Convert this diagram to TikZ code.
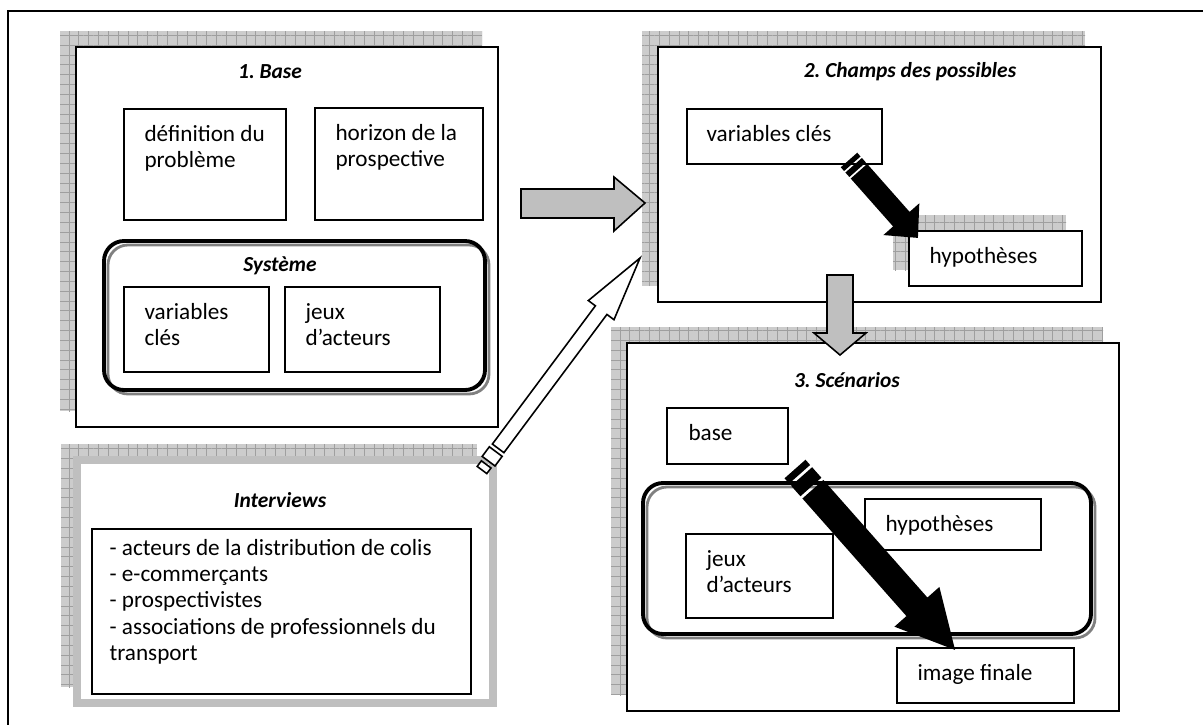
\documentclass[tikz,border=0pt]{standalone}
\usepackage{fontspec}
\setmainfont{Carlito}
\usetikzlibrary{calc,positioning,fit,patterns.meta}

\tikzset{
      stage/.style = {draw, line width=0.9pt, fill=white, inner sep=0pt},   % <--- step boxes
       item/.style = {draw, line width=0.9pt, fill=white, inner sep=0pt},
      hatch/.style = {preaction={fill=gray!40,
                         transform canvas={xshift=-0.32cm, yshift=0.32cm}},
                      preaction={pattern={Hatch[distance=5.6pt, line width=0.4pt]},
                         pattern color=gray!75,
                         transform canvas={xshift=-0.32cm, yshift=0.32cm}}},
        grp/.style = {draw, line width=2.2pt, rounded corners=0.4cm, inner sep=0pt},
     grpbak/.style = {draw=gray, line width=1.6pt, rounded corners=0.4cm, inner sep=0pt},
      ivbox/.style = {draw=gray!50, line width=4pt, fill=white, inner sep=0pt},
      title/.style = {font=\fontsize{12.2}{14}\selectfont\bfseries\itshape},
        txt/.style = {anchor=north west, align=left, inner sep=0pt},
     garrow/.style = {draw, line width=0.9pt, fill=gray!50},
     warrow/.style = {draw, line width=0.9pt, fill=white},
        }

\begin{document}
\frenchspacing
\fontsize{13.2}{15}\selectfont
\begin{tikzpicture}[x=0.02cm, y=-0.02cm]
  \useasboundingbox (0,0) rectangle (1203,724);
  \node[draw, line width=1.2pt, inner sep=0pt, fit={(8,11) (1240,760)}] (frame) {};

  % 1. Base
  \node[stage, hatch, fit={(76,47) (498,427)}] (b1) {};
  \node[title] (t1) at (270,72) {1. Base};
  \node[item, fit={(124,109) (286,220)}] (def) {};
  \node[txt] (tdef) at ($(def.north west)+(21,16.5)$) {définition du\\problème};
  \node[item, fit={(315,108) (483,220)}] (hor) {};
  \node[txt] (thor) at ($(hor.north west)+(21,16.5)$) {horizon de la\\prospective};
  \node[grpbak, fit={(108,245) (489,394)}] (sys1b) {};
  \node[grp, fit={(104,241) (485,390)}] (sys1) {};
  \node[title] (tsys) at (280,266) {Système};
  \node[item, fit={(124,287) (269,372)}] (vc1) {};
  \node[txt] (tvc1) at ($(vc1.north west)+(21,16.5)$) {variables\\clés};
  \node[item, fit={(285,287) (440,372)}] (ja1) {};
  \node[txt] (tja1) at ($(ja1.north west)+(21,16.5)$) {jeux\\d’acteurs};

  % 2. Champs des possibles
  \node[stage, hatch, fit={(658,47) (1101,302)}] (b2) {};
  \node[title] (t2) at (910,72) {2. Champs des possibles};
  \node[item, fit={(687,109) (882,164)}] (vc2) {};
  \node[txt] (tvc2) at ($(vc2.north west)+(20,16.5)$) {variables clés};
  \node[item, hatch, fit={(909,231) (1082,286)}] (hy2) {};
  \node[txt] (thy2) at ($(hy2.north west)+(21,16.5)$) {hypothèses};

  % 3. Scenarios
  \node[stage, hatch, fit={(627,343) (1119,711)}] (b3) {};
  \node[title] (t3) at (847,380) {3. Scénarios};
  \node[item, fit={(667,408) (788,464)}] (bs3) {};
  \node[txt] (tbs3) at ($(bs3.north west)+(22,16.5)$) {base};
  \node[grpbak, fit={(647,487) (1095,638)}] (sys3b) {};
  \node[grp, fit={(643,483) (1091,634)}] (sys3) {};
  \node[item, fit={(865,499) (1041,550)}] (hy3) {};
  \node[txt] (thy3) at ($(hy3.north west)+(21,16.5)$) {hypothèses};
  \node[item, fit={(686,534) (833,618)}] (ja3) {};
  \node[txt] (tja3) at ($(ja3.north west)+(21,16.5)$) {jeux\\d’acteurs};
  \node[item, fit={(897,648) (1074,703)}] (img3) {};
  \node[txt] (timg3) at ($(img3.north west)+(21,16.5)$) {image finale};

  % Interviews
  \node[ivbox, hatch, fit={(77,460) (493,703)}] (iv) {};
  \node[title] (tiv) at (280,500) {Interviews};
  \node[item, fit={(92,529) (471,694)}] (lst) {};
  \node[txt] (tlst) at ($(lst.north west)+(18,10.5)$)
     {- acteurs de la distribution de colis\\- e-commerçants\\- prospectivistes\\
      - associations de professionnels du\\transport};

  % grey arrows
  \draw[garrow] (521,189) -- (614,189) -- (614,177) -- (645,203)
                -- (614,231) -- (614,218) -- (521,218) -- cycle;
  \draw[garrow] (827,275) -- (853,275) -- (853,333) -- (866,333)
                -- (840,355) -- (814,333) -- (827,333) -- cycle;

  % striped arrows
  \coordinate (k2s) at (849,160);
  \coordinate (k2e) at (918,238);
  \begin{scope}[shift={(k2s)}, rotate=-48.5]
    \fill (0,-11) rectangle (5,11);
    \fill (7,-11) rectangle (13,11);
    \fill (15,-11) -- (79,-11) -- (79,-24) -- (104,0)
          -- (79,24) -- (79,11) -- (15,11) -- cycle;
  \end{scope}

  \coordinate (k3s) at (795,469);
  \coordinate (k3e) at (955,650);
  \begin{scope}[shift={(k3s)}, rotate=-48.5]
    \fill (0,-14) rectangle (7,14);
    \fill (10,-14) rectangle (24,14);
    \fill (27,-14) -- (184,-14) -- (184,-30) -- (241.6,0)
          -- (184,30) -- (184,14) -- (27,14) -- cycle;
  \end{scope}

  \coordinate (k1s) at (482,470);
  \coordinate (k1e) at (640,258);
  \begin{scope}[shift={(k1s)}, rotate=53.3]
    \draw[warrow] (0,-6) rectangle (7,6);
    \draw[warrow] (11,-8) rectangle (23,8);
    \draw[warrow] (27,-7.2) -- (199.4,-7.2) -- (199.4,-16) -- (264.4,0)
          -- (199.4,16) -- (199.4,7.2) -- (27,7.2) -- cycle;
  \end{scope}
\end{tikzpicture}
\end{document}
